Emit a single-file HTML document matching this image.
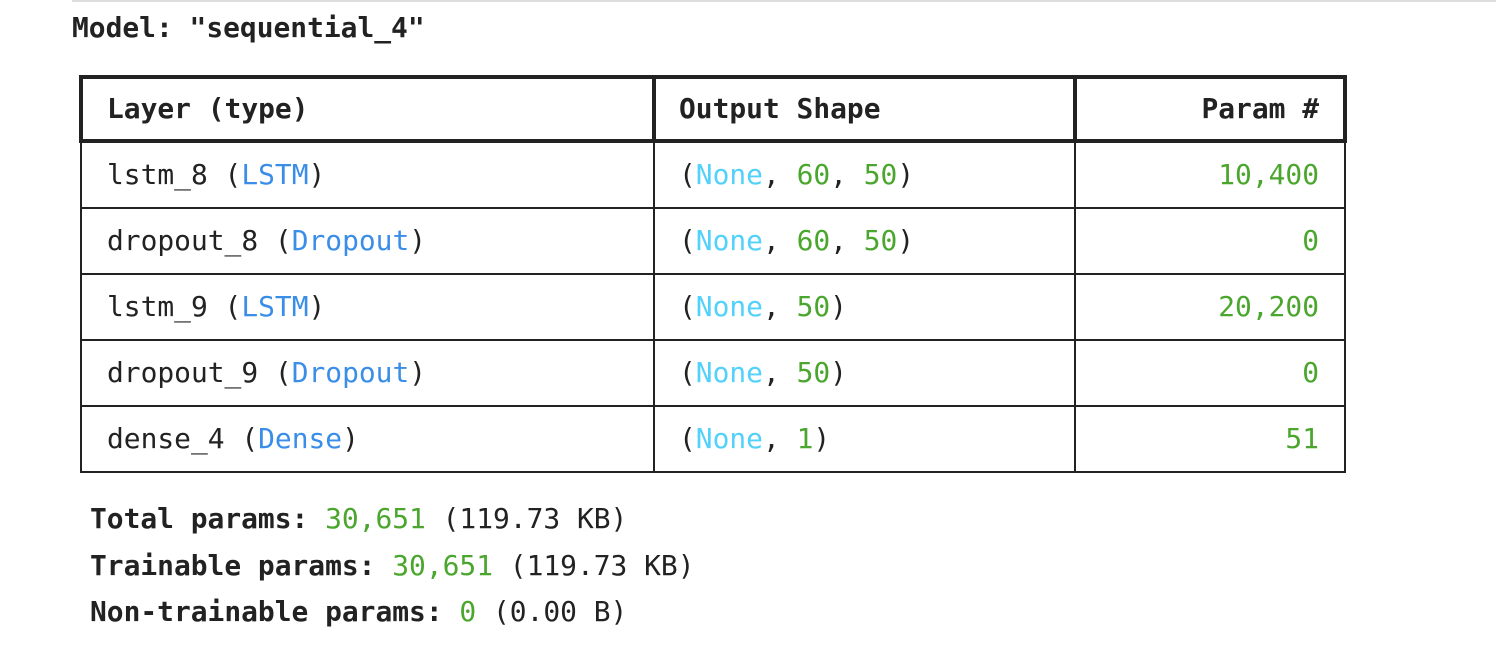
<!DOCTYPE html>
<html><head><meta charset="utf-8"><style>
html,body{margin:0;padding:0;background:#fff;width:1496px;height:654px;overflow:hidden;position:relative}
*{box-sizing:border-box}
.t{position:absolute;font-family:"DejaVu Sans Mono","Liberation Mono",monospace;font-size:27.9px;color:#222;white-space:pre;line-height:1;}
.b{font-weight:bold}
.bl{color:#3a8ee8}.cy{color:#52d1fb}.gr{color:#4ba62e}
.h{position:absolute;background:#222}
</style></head><body>
<div class="h" style="left:72px;top:0;width:1424px;height:2px;background:#ddd"></div>
<div class="t b" style="left:72px;top:14px">Model: "sequential_4"</div>

<div class="h" style="left:79px;top:75px;width:1268px;height:4px"></div>
<div class="h" style="left:79px;top:139px;width:1268px;height:4px"></div>
<div class="h" style="left:79px;top:75px;width:4px;height:68px"></div>
<div class="h" style="left:652px;top:75px;width:4px;height:68px"></div>
<div class="h" style="left:1073px;top:75px;width:4px;height:68px"></div>
<div class="h" style="left:1343px;top:75px;width:4px;height:68px"></div>
<div class="h" style="left:80px;top:143px;width:2px;height:330px"></div>
<div class="h" style="left:653px;top:143px;width:2px;height:330px"></div>
<div class="h" style="left:1074px;top:143px;width:2px;height:330px"></div>
<div class="h" style="left:1344px;top:143px;width:2px;height:330px"></div>
<div class="h" style="left:80px;top:207px;width:1266px;height:2px"></div>
<div class="h" style="left:80px;top:273px;width:1266px;height:2px"></div>
<div class="h" style="left:80px;top:339px;width:1266px;height:2px"></div>
<div class="h" style="left:80px;top:405px;width:1266px;height:2px"></div>
<div class="h" style="left:80px;top:471px;width:1266px;height:2px"></div>

<div class="t b" style="left:107px;top:95px">Layer (type)</div>
<div class="t b" style="left:679px;top:95px">Output Shape</div>
<div class="t b" style="right:177px;top:95px">Param #</div>

<div class="t" style="left:107px;top:161px">lstm_8 (<span class="bl">LSTM</span>)</div>
<div class="t" style="left:679px;top:161px">(<span class="cy">None</span>, <span class="gr">60</span>, <span class="gr">50</span>)</div>
<div class="t gr" style="right:177px;top:161px">10,400</div>

<div class="t" style="left:107px;top:227px">dropout_8 (<span class="bl">Dropout</span>)</div>
<div class="t" style="left:679px;top:227px">(<span class="cy">None</span>, <span class="gr">60</span>, <span class="gr">50</span>)</div>
<div class="t gr" style="right:177px;top:227px">0</div>

<div class="t" style="left:107px;top:293px">lstm_9 (<span class="bl">LSTM</span>)</div>
<div class="t" style="left:679px;top:293px">(<span class="cy">None</span>, <span class="gr">50</span>)</div>
<div class="t gr" style="right:177px;top:293px">20,200</div>

<div class="t" style="left:107px;top:359px">dropout_9 (<span class="bl">Dropout</span>)</div>
<div class="t" style="left:679px;top:359px">(<span class="cy">None</span>, <span class="gr">50</span>)</div>
<div class="t gr" style="right:177px;top:359px">0</div>

<div class="t" style="left:107px;top:425px">dense_4 (<span class="bl">Dense</span>)</div>
<div class="t" style="left:679px;top:425px">(<span class="cy">None</span>, <span class="gr">1</span>)</div>
<div class="t gr" style="right:177px;top:425px">51</div>

<div class="t" style="left:90px;top:505px"><span class="b">Total params: </span><span class="gr">30,651</span> (119.73 KB)</div>
<div class="t" style="left:90px;top:552px"><span class="b">Trainable params: </span><span class="gr">30,651</span> (119.73 KB)</div>
<div class="t" style="left:90px;top:598px"><span class="b">Non-trainable params: </span><span class="gr">0</span> (0.00 B)</div>
</body></html>
